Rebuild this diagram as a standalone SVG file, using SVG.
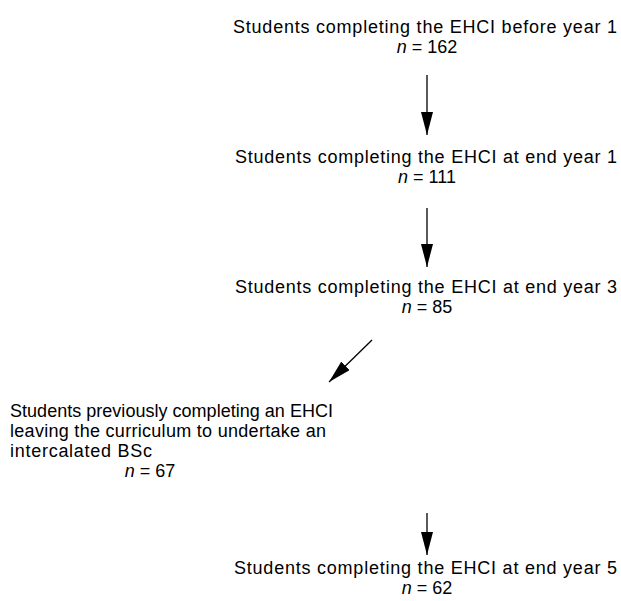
<svg xmlns="http://www.w3.org/2000/svg" width="621" height="601" viewBox="0 0 621 601">
<style>
text{font-family:"Liberation Sans",Arial,sans-serif;font-size:18px;fill:#000}
.c{text-anchor:middle}
.i{font-style:italic}
.conn line{stroke:#000;stroke-width:1.3}
</style>
<defs>
<marker id="ah" viewBox="0 0 23 12" refX="23" refY="6" markerWidth="23" markerHeight="12" markerUnits="userSpaceOnUse" orient="auto">
<path d="M0,0 L23,6 L0,12 Z" fill="#000"/>
</marker>
</defs>
<rect width="621" height="601" fill="#fff"/>
<g id="n1"><text x="233" y="33" textLength="384" lengthAdjust="spacing">Students completing the EHCI before year 1</text><text class="c" x="427" y="53"><tspan class="i">n</tspan> = 162</text></g>
<g id="n2"><text x="235" y="163" textLength="382" lengthAdjust="spacing">Students completing the EHCI at end year 1</text><text class="c" x="427" y="183"><tspan class="i">n</tspan> = 111</text></g>
<g id="n3"><text x="235" y="293" textLength="382" lengthAdjust="spacing">Students completing the EHCI at end year 3</text><text class="c" x="427" y="313"><tspan class="i">n</tspan> = 85</text></g>
<g id="n4"><text x="10" y="417" textLength="323" lengthAdjust="spacing">Students previously completing an EHCI</text><text x="10" y="437" textLength="316" lengthAdjust="spacing">leaving the curriculum to undertake an</text><text x="10" y="457" textLength="142" lengthAdjust="spacing">intercalated BSc</text><text class="c" x="150" y="477"><tspan class="i">n</tspan> = 67</text></g>
<g id="n5"><text x="234" y="574" textLength="383" lengthAdjust="spacing">Students completing the EHCI at end year 5</text><text class="c" x="427" y="594"><tspan class="i">n</tspan> = 62</text></g>
<g class="conn">
<line x1="427" y1="75" x2="427" y2="135" marker-end="url(#ah)"/>
<line x1="427" y1="208" x2="427" y2="267" marker-end="url(#ah)"/>
<line x1="372" y1="340" x2="329" y2="382" marker-end="url(#ah)"/>
<line x1="427" y1="513" x2="427" y2="555" marker-end="url(#ah)"/>
</g>
</svg>
